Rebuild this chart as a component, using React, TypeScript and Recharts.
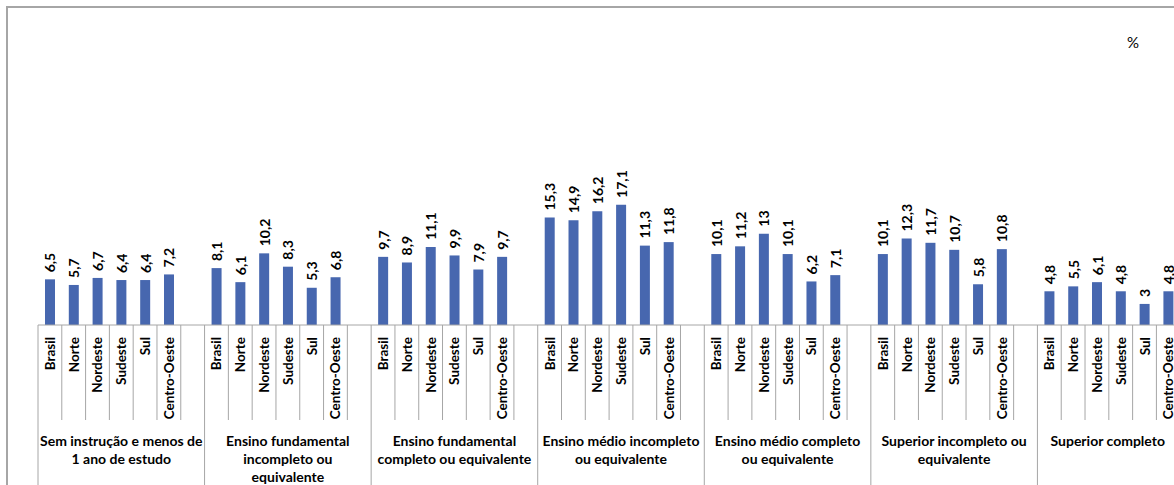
import { BarChart, Bar, XAxis, YAxis, LabelList } from "recharts";

const regions = ["Brasil", "Norte", "Nordeste", "Sudeste", "Sul", "Centro-Oeste"];

const groups = [
  ["Sem instrução e menos de", "1 ano de estudo"],
  ["Ensino fundamental", "incompleto ou", "equivalente"],
  ["Ensino fundamental", "completo ou equivalente"],
  ["Ensino médio incompleto", "ou equivalente"],
  ["Ensino médio completo", "ou equivalente"],
  ["Superior incompleto ou", "equivalente"],
  ["Superior completo"],
];

const semInstrucao = [6.5, 5.7, 6.7, 6.4, 6.4, 7.2];
const fundIncompleto = [8.1, 6.1, 10.2, 8.3, 5.3, 6.8];
const fundCompleto = [9.7, 8.9, 11.1, 9.9, 7.9, 9.7];
const medioIncompleto = [15.3, 14.9, 16.2, 17.1, 11.3, 11.8];
const medioCompleto = [10.1, 11.2, 13, 10.1, 6.2, 7.1];
const supIncompleto = [10.1, 12.3, 11.7, 10.7, 5.8, 10.8];
const supCompleto = [4.8, 5.5, 6.1, 4.8, 3, 4.8];

const values = [
  semInstrucao,
  fundIncompleto,
  fundCompleto,
  medioIncompleto,
  medioCompleto,
  supIncompleto,
  supCompleto,
];

// 6 bars + 1 empty slot per group
const data = groups.flatMap((_, gi) =>
  [0, 1, 2, 3, 4, 5, 6].map((ri) => ({
    key: `${gi}-${ri}`,
    value: ri < 6 ? values[gi][ri] : null,
  }))
);

const WIDTH = 1230;
const HEIGHT = 485;
const VIEW_W = 1178;
const LEFT = 38;
const RIGHT = 26;
const AXIS_H = 160;
const AXIS_Y = HEIGHT - AXIS_H;
const SLOT = (WIDTH - LEFT - RIGHT) / data.length;
const FONT = "Lato, 'Open Sans', sans-serif";
const LINE = "#a6a6a6";

const fmt = (v: number) => String(v).replace(".", ",");

const RegionTick = (props: any) => {
  const { x, payload } = props;
  const [gi, ri] = String(payload.value).split("-").map(Number);
  const left = x - SLOT / 2;
  // group label is centred on the visible part of the group
  const mid = (left + Math.min(left + SLOT * 7, VIEW_W)) / 2;
  return (
    <g>
      <line
        x1={left}
        x2={left}
        y1={AXIS_Y}
        y2={ri === 0 ? HEIGHT : 420}
        stroke={LINE}
        strokeWidth={1}
      />
      {ri < 6 && (
        <text
          x={x}
          y={337}
          transform={`rotate(-90 ${x} 337)`}
          textAnchor="end"
          dominantBaseline="central"
          fontFamily={FONT}
          fontWeight="bold"
          fontSize={13.5}
          fill="#000"
        >
          {regions[ri]}
        </text>
      )}
      {ri === 0 &&
        groups[gi].map((line, li) => (
          <text
            key={li}
            x={mid}
            y={440 + li * 18}
            textAnchor="middle"
            dominantBaseline="central"
            fontFamily={FONT}
            fontWeight="bold"
            fontSize={14}
            fill="#000"
          >
            {line}
          </text>
        ))}
    </g>
  );
};

const ValueLabel = (props: any) => {
  const { x, y, width, value } = props;
  if (value == null) return null;
  const cx = x + width / 2;
  const ty = y - 7;
  return (
    <text
      x={cx}
      y={ty}
      transform={`rotate(-90 ${cx} ${ty})`}
      textAnchor="start"
      dominantBaseline="central"
      fontFamily={FONT}
      fontWeight="bold"
      fontSize={14}
      fill="#000"
    >
      {fmt(value)}
    </text>
  );
};

export default function App() {
  return (
    <div
      style={{
        position: "fixed",
        left: 0,
        top: 0,
        width: 1174,
        height: 485,
        overflow: "hidden",
        background: "#fff",
      }}
    >
      <div
        style={{
          position: "absolute",
          left: 6,
          top: 6,
          width: 2000,
          height: 2000,
          borderLeft: `2px solid ${LINE}`,
          borderTop: `2px solid ${LINE}`,
        }}
      />
      <span
        style={{
          position: "absolute",
          left: 1127,
          top: 33,
          fontFamily: FONT,
          fontSize: 15,
          color: "#000",
        }}
      >
        %
      </span>
      <div style={{ position: "absolute", left: 0, top: 0 }}>
        <BarChart
          width={WIDTH}
          height={HEIGHT}
          data={data}
          margin={{ top: 44, right: RIGHT, left: LEFT, bottom: 0 }}
          barSize={10}
        >
          <XAxis
            dataKey="key"
            interval={0}
            height={AXIS_H}
            tickLine={false}
            axisLine={{ stroke: LINE }}
            tick={<RegionTick />}
          />
          <YAxis hide domain={[0, 40]} />
          <Bar dataKey="value" fill="#4767AF" isAnimationActive={false}>
            <LabelList dataKey="value" content={<ValueLabel />} />
          </Bar>
        </BarChart>
      </div>
    </div>
  );
}
